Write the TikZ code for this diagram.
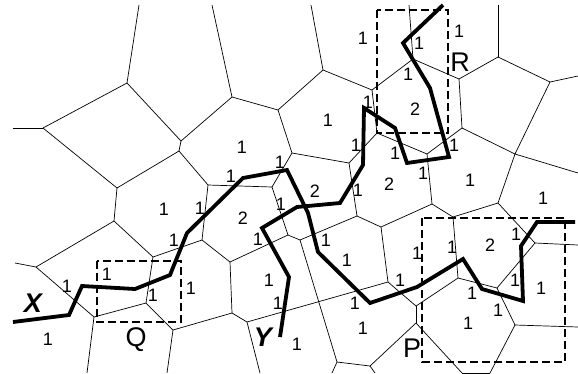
\documentclass[tikz,border=0pt]{standalone}
\usepackage{fontspec}
\setmainfont{Liberation Sans}
\begin{document}
\begin{tikzpicture}[x=1pt, y=-1pt]

    % velikost obrázku
    \useasboundingbox (0,0) rectangle (578,373);

    % styly
    \tikzset{
        edge/.style={black, line width=0.7pt},
        walk/.style={black, line width=3.8pt, line join=miter},
        box/.style={black, line width=1.4pt, dash pattern=on 8pt off 4pt},
        weight/.style={font=\fontsize{18}{18}\selectfont, inner sep=0pt},
        tag/.style={font=\fontsize{27}{27}\selectfont, inner sep=0pt}
    }

    % vrcholy Voroného diagramu
    \coordinate (v1) at (127,83);   \coordinate (v2) at (43,128);
    \coordinate (v3) at (181,141);  \coordinate (v4) at (179,151);
    \coordinate (v5) at (117,188);  \coordinate (v6) at (114,221);
    \coordinate (v7) at (36,267);   \coordinate (v8) at (153,257);
    \coordinate (v9) at (94,317);   \coordinate (v10) at (146,303);
    \coordinate (v11) at (173,330); \coordinate (v12) at (232,97);
    \coordinate (v13) at (278,110); \coordinate (v14) at (323,70);
    \coordinate (v15) at (372,90);  \coordinate (v16) at (208,185);
    \coordinate (v17) at (272,187); \coordinate (v18) at (292,153);
    \coordinate (v19) at (349,163); \coordinate (v20) at (377,133);
    \coordinate (v21) at (357,216); \coordinate (v22) at (288,235);
    \coordinate (v23) at (300,240); \coordinate (v24) at (381,227);
    \coordinate (v25) at (202,240); \coordinate (v26) at (230,262);
    \coordinate (v27) at (232,313); \coordinate (v28) at (247,322);
    \coordinate (v29) at (388,282); \coordinate (v30) at (416,306);
    \coordinate (v31) at (416,323); \coordinate (v32) at (337,362);
    \coordinate (v33) at (370,366); \coordinate (v34) at (413,59);
    \coordinate (v35) at (459,79);  \coordinate (v36) at (498,57);
    \coordinate (v37) at (550,82);  \coordinate (v38) at (515,154);
    \coordinate (v39) at (462,128); \coordinate (v40) at (427,154);
    \coordinate (v41) at (432,204); \coordinate (v42) at (453,217);
    \coordinate (v43) at (498,203); \coordinate (v44) at (458,278);
    \coordinate (v45) at (535,243); \coordinate (v46) at (497,288);
    \coordinate (v47) at (462,373); \coordinate (v48) at (490,373);
    \coordinate (v49) at (515,325);

    % konce hran na okraji
    \coordinate (e1) at (139,5);    \coordinate (e2) at (13,128);
    \coordinate (e3) at (15,263);   \coordinate (e4) at (87,373);
    \coordinate (e5) at (167,373);  \coordinate (e6) at (212,5);
    \coordinate (e7) at (311,5);    \coordinate (e8) at (260,373);
    \coordinate (e9) at (409,5);    \coordinate (e10) at (498,5);
    \coordinate (e11) at (578,76);  \coordinate (e12) at (578,173);
    \coordinate (e13) at (578,245); \coordinate (e14) at (578,327);
    \coordinate (e15) at (332,373); \coordinate (e16) at (375,373);

    % hrany
    \foreach \a/\b in {v1/e1, v1/v2, v1/v3, v2/e2, v2/v5, v3/v4, v3/v12,
        v4/v5, v4/v16, v5/v6, v6/v7, v6/v8, v7/e3, v7/v9, v9/e4, v9/v10,
        v8/v10, v8/v25, v10/v11, v11/e5, v11/v27, v12/e6, v12/v13,
        v13/v14, v13/v18, v14/e7, v14/v15, v15/v34, v15/v20, v18/v19,
        v18/v17, v16/v17, v16/v25, v19/v20, v19/v21, v20/v40, v21/v24,
        v21/v23, v17/v22, v22/v23, v22/v26, v23/v32, v25/v26, v26/v27,
        v27/v28, v28/e8, v28/v29, v24/v41, v24/v29, v29/v30, v30/v31,
        v30/v44, v31/v33, v31/v47, v32/v33, v32/e15, v33/e16} {
        \draw[edge] (\a) -- (\b);
    }
    \foreach \a/\b in {v34/e9, v34/v35, v35/v36, v35/v39, v36/e10,
        v36/v37, v37/e11, v37/v38, v38/v39, v38/e12, v38/v43, v39/v40,
        v40/v41, v41/v42, v42/v43, v42/v44, v43/v45, v45/e13, v45/v46,
        v44/v46, v46/v49, v49/e14, v49/v48, v48/v47} {
        \draw[edge] (\a) -- (\b);
    }

    % oblasti
    \draw[box] (97,261) rectangle (181,322);
    \draw[box] (377,10) rectangle (448,133);
    \draw[box] (422,218) rectangle (565,362);

    % cesty X a Y
    \draw[walk] (13,322) -- (69,315) -- (82,286) -- (135,289) -- (170,275)
        -- (187,233) -- (243,178) -- (287,170) -- (308,213) -- (318,252)
        -- (370,303) -- (417,287) -- (463,259) -- (482,289) -- (523,301)
        -- (521,246) -- (537,222) -- (575,222);
    \draw[walk] (280,337) -- (289,277) -- (262,228) -- (297,207)
        -- (340,203) -- (363,165) -- (364,108) -- (395,128) -- (407,163)
        -- (449,157) -- (430,88) -- (403,43) -- (443,5);

    % váhy
    \foreach \x/\y [count=\n] in {363/38, 459/31, 419/43, 408/74, 368/102,
        328/120, 356/145, 242/147, 395/153, 454/145, 280/162, 231/176,
        423/173, 470/180, 358/190, 164/209, 200/208, 281/204, 543/198,
        174/240, 258/239, 326/240, 516/234, 452/247, 417/253, 347/260,
        107/274, 67/286, 269/280, 191/288, 400/280, 515/280, 541/288,
        153/295, 472/293, 278/303, 355/303, 498/310, 363/328, 468/323,
        297/344, 48/339} {
        \node[weight] (one\n) at (\x,\y) {1};
    }
    \foreach \x/\y [count=\n] in {415/109, 315/191, 389/184, 243/218, 490/245} {
        \node[weight] (two\n) at (\x,\y) {2};
    }

    % popisky
    \node[tag, font=\fontsize{27}{27}\selectfont\bfseries\itshape] (labx) at (33,303) {X};
    \node[tag, font=\fontsize{27}{27}\selectfont\bfseries\itshape] (laby) at (263,337) {Y};
    \node[tag] (labq) at (136,340) {Q};
    \node[tag] (labr) at (460,62) {R};
    \node[tag] (labp) at (412,348) {P};

\end{tikzpicture}
\end{document}
